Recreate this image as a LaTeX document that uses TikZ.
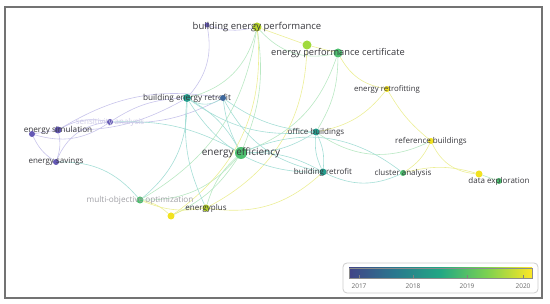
\documentclass[tikz,border=0pt]{standalone}
\usepackage{fontspec}
\setmainfont{Open Sans}
\usepackage{tikz}
\usetikzlibrary{backgrounds}
\definecolor{VPurple}{RGB}{100,88,180}
\definecolor{VBlue}{RGB}{62,104,156}
\definecolor{VTeal}{RGB}{38,158,142}
\definecolor{VGreen}{RGB}{78,192,112}
\definecolor{VLime}{RGB}{182,212,40}
\definecolor{VLightGreen}{RGB}{160,218,60}
\definecolor{VYellow}{RGB}{242,226,32}
\definecolor{EPurple}{RGB}{200,196,235}
\definecolor{ETeal}{RGB}{165,222,214}
\definecolor{EGreen}{RGB}{185,232,195}
\definecolor{EYellow}{RGB}{236,238,150}
\definecolor{LabelGray}{RGB}{55,55,60}
\definecolor{FaintGray}{RGB}{160,160,165}
\definecolor{FaintLav}{RGB}{205,202,230}
\definecolor{V0}{RGB}{65,68,135}
\definecolor{V1}{RGB}{42,120,142}
\definecolor{V2}{RGB}{34,168,132}
\definecolor{V3}{RGB}{122,209,81}
\definecolor{V4}{RGB}{253,231,37}
\pgfdeclarehorizontalshading{viridis}{100bp}{color(0bp)=(V0); color(25bp)=(V0);
  color(37.5bp)=(V1); color(50bp)=(V2); color(62.5bp)=(V3); color(75bp)=(V4); color(100bp)=(V4)}
\tikzset{
  dot/.style={circle,fill=#1,inner sep=0pt,minimum size=7pt},
  edge/.style={draw=#1,line width=0.6pt},
  lbl/.style={font=\fontsize{8}{9}\selectfont,text=LabelGray,inner sep=0pt},
  lblbig/.style={font=\fontsize{9.5}{10}\selectfont,text=LabelGray,inner sep=0pt},
  tick/.style={font=\fontsize{6.5}{7}\selectfont,text=black!60},
}

\begin{document}
\begin{tikzpicture}[x=1pt,y=-1pt]
\useasboundingbox (0,0) rectangle (550,304);
\draw[draw=black!55,line width=1.2pt] (5,7) rectangle (542,298);
% keywords
\node[dot=VPurple,minimum size=5pt] (pt) at (207,25) {};
\node[dot=VLime,minimum size=9pt,label={[lblbig]center:building energy performance}] (bep) at (257,27) {};
\node[dot=VLightGreen,minimum size=9pt] (lg) at (307,45) {};
\node[dot=VGreen,minimum size=9pt,label={[lblbig,font=\fontsize{9.3}{10}\selectfont]center:energy performance certificate}] (epc) at (338,53) {};
\node[dot=VYellow,minimum size=6pt,label={[lbl,font=\fontsize{7.8}{8}\selectfont]center:energy retrofitting}] (eret) at (387,89) {};
\node[dot=VTeal,minimum size=8pt,label={[lbl,font=\fontsize{8.2}{9}\selectfont]center:building energy retrofit}] (ber) at (187,98) {};
\node[dot=VBlue,minimum size=6pt] (blu) at (223,98) {};
\node[dot=VPurple,minimum size=6pt,label={[lbl,text=FaintLav]center:sensitivity analysis}] (sens) at (110,122) {};
\node[dot=VPurple,minimum size=7pt,label={[lbl,font=\fontsize{8.2}{9}\selectfont]center:energy simulation}] (sim) at (58,130) {};
\node[dot=VPurple,minimum size=6pt] (simL) at (32,134) {};
\node[dot=VTeal,minimum size=7pt,label={[lbl]center:office buildings}] (off) at (316,132) {};
\node[dot=VYellow,minimum size=6pt,label={[lbl]center:reference buildings}] (refb) at (431,141) {};
\node[dot=VGreen,minimum size=12pt,label={[lblbig,font=\fontsize{10}{11}\selectfont]center:energy efficiency}] (eff) at (241,153) {};
\node[dot=VPurple,minimum size=6pt,label={[lbl]center:energy savings}] (sav) at (56,162) {};
\node[dot=VTeal,minimum size=7pt,label={[lbl]center:building retrofit}] (bret) at (323,172) {};
\node[dot=VGreen,minimum size=6pt,label={[lbl]center:cluster analysis}] (clu) at (403,173) {};
\node[dot=VYellow,minimum size=7pt] (dex) at (479,174) {};
\node[dot=VGreen,minimum size=6pt,label={[lbl]center:data exploration}] (dexg) at (499,181) {};
\node[dot=VGreen,minimum size=7pt,label={[lbl,font=\fontsize{8.2}{9}\selectfont,text=FaintGray]center:multi-objective optimization}] (mo) at (140,200) {};
\node[dot=VYellow,minimum size=7pt] (ga) at (171,216) {};
\node[dot=VLime,minimum size=7pt,label={[lbl]center:energyplus}] (ep) at (206,208) {};
% links
\begin{scope}[on background layer]
\foreach \u/\v/\c/\b in {simL/sim/EPurple/0,simL/sav/EPurple/-15,sim/sav/EPurple/15,
  sim/sens/EPurple/20,simL/sens/EPurple/-25,sav/sens/EPurple/30,sim/ber/EPurple/-15,
  sim/blu/EPurple/20,sens/blu/EPurple/-15,sens/ber/EPurple/15,pt/ber/EPurple/25,
  pt/bep/EPurple/-15,sav/mo/ETeal/25,sens/eff/ETeal/15,bep/lg/EYellow/0,
  lg/epc/EYellow/0,bep/epc/EGreen/-30,bep/ber/EGreen/30,bep/eff/EGreen/15,
  bep/mo/EGreen/25,epc/eret/EYellow/-25,epc/off/EGreen/15,epc/eff/EGreen/25,
  lg/ep/EYellow/30,eret/off/EYellow/20,eret/refb/EYellow/-10,refb/dex/EYellow/-30,
  refb/clu/EYellow/15,off/refb/EGreen/-30,clu/dex/EYellow/15,bret/clu/ETeal/-25,
  off/bret/ETeal/15,off/bret/ETeal/-15,off/ber/ETeal/20,eff/off/ETeal/-15,
  eff/bret/ETeal/15,eff/clu/ETeal/30,eff/ber/ETeal/-15,eff/blu/ETeal/10,
  eff/mo/EGreen/25,eff/ep/EGreen/-15,eff/ga/EGreen/15,mo/ga/EYellow/15,
  mo/ep/EYellow/-15,ga/ep/EYellow/15,ber/mo/ETeal/25,ber/blu/ETeal/-30,
  blu/off/ETeal/-15,blu/bret/ETeal/-25,ber/bret/ETeal/-30,ep/bret/EYellow/-25,
  bep/ga/EYellow/30,ber/ep/ETeal/-15,dex/dexg/EGreen/0}
  \draw[edge=\c] (\u) to[bend left=\b] (\v);
\end{scope}
% legend
\draw[draw=black!20,rounded corners=4pt,line width=0.8pt] (343,263) rectangle (538,293);
\shade[shading=viridis,draw=black!45,line width=0.5pt] (349,268) rectangle (532,278);
\foreach \x/\yr in {359/2017,413/2018,467/2019,523/2020} {
  \draw[black!50,line width=0.4pt] (\x,278) -- (\x,275);
  \node[tick] at (\x,286) {\yr};
}
\end{tikzpicture}
\end{document}
